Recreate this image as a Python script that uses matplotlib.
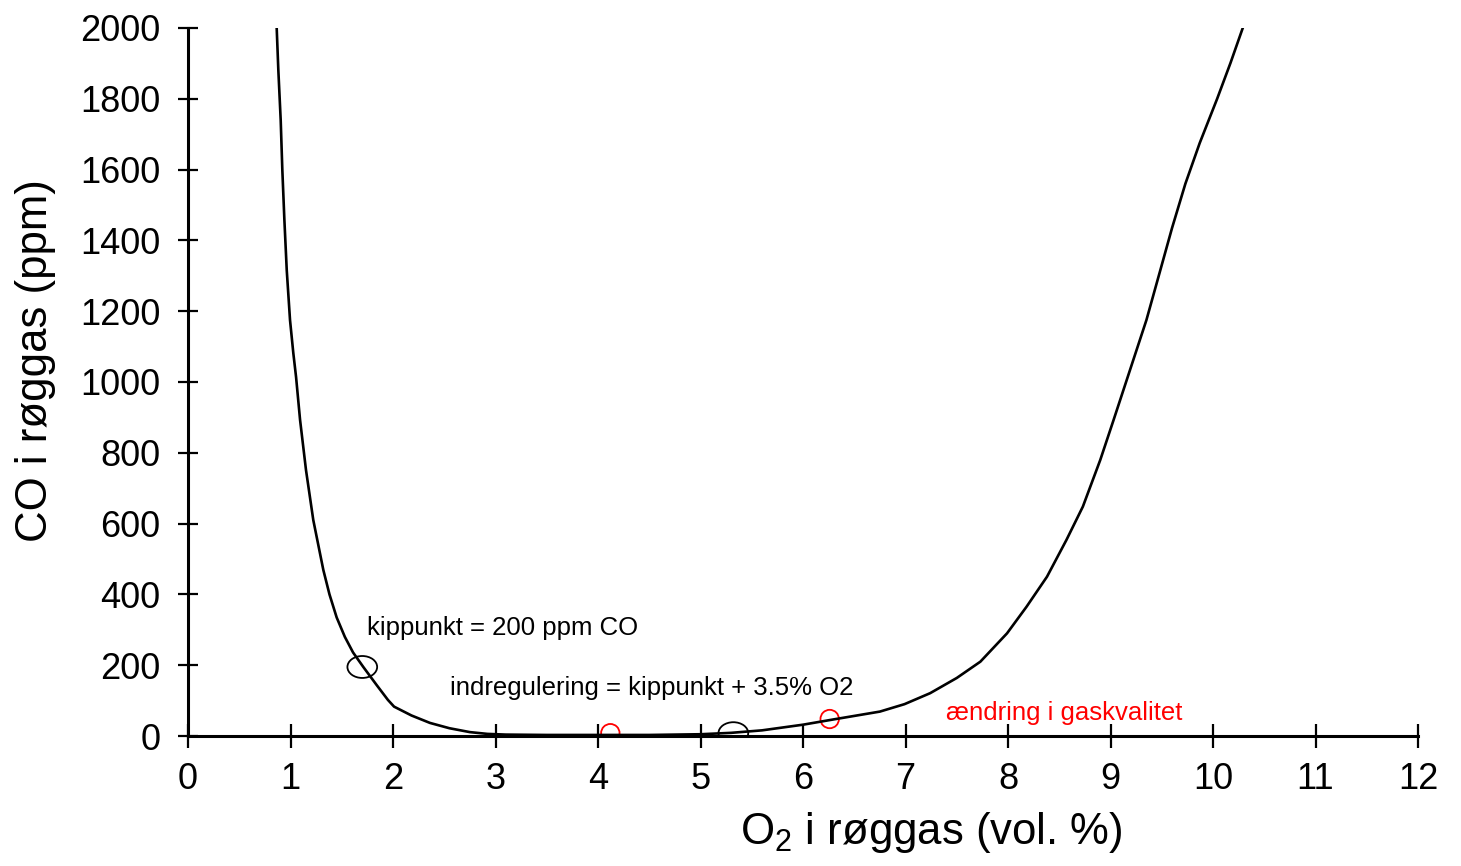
import matplotlib
matplotlib.use("Agg")
import matplotlib.pyplot as plt
from matplotlib.patches import Ellipse

plt.rcParams['font.family'] = ['Liberation Sans', 'DejaVu Sans']
plt.rcParams['mathtext.fontset'] = 'custom'
plt.rcParams['mathtext.rm'] = 'Liberation Sans'

# CO curve (O2 vol-% vs CO ppm)
o2 = [0.865, 0.881, 0.904, 0.92, 0.94, 0.963, 0.995, 1.027, 1.054, 1.093,
      1.151, 1.222, 1.32, 1.38, 1.45, 1.53, 1.61, 1.71, 1.84, 1.95, 2.01,
      2.18, 2.36, 2.55, 2.75, 2.92, 3.1, 3.5, 4.0, 4.5, 5.0,
      5.3, 5.6, 6.0, 6.3, 6.75, 6.99, 7.24, 7.50, 7.73, 7.99, 8.18, 8.38,
      8.57, 8.73, 8.90, 9.03, 9.19, 9.35, 9.48, 9.60, 9.73, 9.87, 10.04,
      10.17, 10.29]
co = [2000, 1881, 1740, 1599, 1458, 1316, 1175, 1082, 1014, 893,
      751, 610, 469, 400, 335, 280, 236, 195, 144, 102, 83,
      58, 37, 22, 11, 6, 4, 3, 3, 3, 5,
      9, 16, 32, 47, 69, 90, 121, 164, 210, 290, 365, 450,
      554, 648, 780, 893, 1034, 1175, 1310, 1435, 1560, 1675, 1800,
      1901, 2000]

# marked points
black_x = [1.70, 5.32]
black_y = [195, 8]
red_x = [4.12, 6.26]
red_y = [8, 48]

xticks = list(range(0, 13))
yticks = list(range(0, 2001, 200))

fig = plt.figure(figsize=(14.61, 8.66), dpi=100)
ax = fig.add_axes([0.1287, 0.1501, 0.8419, 0.8176])

ax.plot(o2, co, color='black', linewidth=1.9, solid_joinstyle='round')

for x, y in zip(black_x, black_y):
    ax.add_patch(Ellipse((x, y), 0.29, 62, fill=False, edgecolor='black', linewidth=1.3))
for x, y in zip(red_x, red_y):
    ax.add_patch(Ellipse((x, y), 0.18, 52, fill=False, edgecolor='red', linewidth=1.3))

ax.text(1.75, 305, 'kippunkt = 200 ppm CO', fontsize=18.5, va='center', ha='left')
ax.text(2.56, 135, 'indregulering = kippunkt + 3.5% O2', fontsize=18.5, va='center', ha='left')
ax.text(7.39, 64, 'ændring i gaskvalitet', fontsize=18.5, va='center', ha='left', color='red')

ax.set_xlim(0, 12)
ax.set_ylim(0, 2000)
ax.set_xticks(xticks)
ax.set_yticks(yticks)

for s in ['top', 'right']:
    ax.spines[s].set_visible(False)
for s in ['left', 'bottom']:
    ax.spines[s].set_linewidth(2.2)

ax.tick_params(axis='y', direction='inout', length=15, width=1.6, labelsize=26, pad=12.5)
ax.tick_params(axis='x', direction='inout', length=17, width=1.6, labelsize=26, pad=10.5)

ax.set_xlabel(r'O$_2$ i røggas (vol. %)', fontsize=31.5)
ax.set_ylabel('CO i røggas (ppm)', fontsize=31.5)
ax.xaxis.set_label_coords(0.604, -0.105)
ax.yaxis.set_label_coords(-0.107, 0.53)

fig.savefig('out.png', dpi=100)
